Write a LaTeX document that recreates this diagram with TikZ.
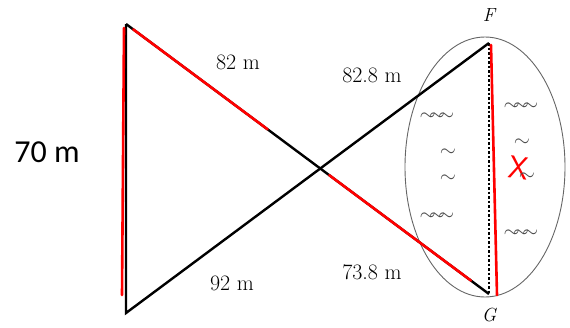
\documentclass[tikz,border=0pt]{standalone}
\usepackage{fontspec}
\newfontfamily\labelsans{Carlito}
\usetikzlibrary{calc, shapes.geometric}

\begin{document}
\begin{tikzpicture}[x=1pt,y=-1pt,
	side/.style={draw=black,line width=2.4pt},
	redmark/.style={draw=red,line width=2.6pt,line cap=round},
	lake/.style={draw=black!60,line width=0.9pt},
	dist/.style={font=\fontsize{22}{22}\selectfont,inner sep=0pt},
	vlabel/.style={font=\fontsize{19}{19}\selectfont\itshape,inner sep=0pt},
	wave/.style={font=\fontsize{20}{20}\selectfont,inner sep=0pt,text=black!70},
	]
	\useasboundingbox (0,0) rectangle (570,327);
	% vertices
	\coordinate (A) at (126,24);
	\coordinate (B) at (126,313);
	\coordinate (F) at (489,43);
	\coordinate (G) at (489,294);
	\coordinate (Fr) at (491,45);
	\coordinate (Gr) at (497,295);
	
	% lake
	\node[lake,ellipse,minimum width=160pt,minimum height=260pt,inner sep=0pt] (lakeshape) at (485,167) {};
	\draw[dash pattern=on 2.5pt off 2pt,line width=1.8pt] (F) -- (G);
	
	% triangles
	\draw[side] (A) -- (B) -- (F);
	\draw[side] (A) -- (G);
	
	% red marks
	\draw[redmark] ($(A)+(-2,4)$) -- ($(B)+(-4,-18)$);
	\draw[redmark] ($(A)!0.02!(G)$) -- ($(A)!0.39!(G)$);
	\draw[redmark] ($(A)!0.56!(G)$) -- ($(A)!0.95!(G)$);
	\draw[redmark] (Fr) -- (Gr);
	\node[text=red,font=\fontsize{32}{32}\selectfont\sffamily,inner sep=0pt,rotate=-8] (cross) at (519,168) {X};
	
	% distances
	\node[dist] (d82) at (238,62) {82 m};
	\node[dist] (d828) at (372,75) {82.8 m};
	\node[dist] (d92) at (232,283) {92 m};
	\node[dist] (d738) at (372,272) {73.8 m};
	\node[font=\labelsans\fontsize{32}{32}\selectfont,inner sep=0pt] (d70) at (47,152) {70 m};
	\node[vlabel] (lblF) at (489,15) {F};
	\node[vlabel] (lblG) at (489,315) {G};
	
	% water marks
	\node[wave] (w1) at (437,117) {$\sim\!\!\sim\!\!\sim$};
	\node[wave] (w2) at (448,153) {$\sim$};
	\node[wave] (w3) at (448,179) {$\sim$};
	\node[wave] (w4) at (437,217) {$\sim\!\!\sim\!\!\sim$};
	\node[wave] (w5) at (521,107) {$\sim\!\!\sim\!\!\sim$};
	\node[wave] (w6) at (522,143) {$\sim$};
	\node[wave] (w7) at (527,177) {$\sim$};
	\node[wave] (w8) at (521,234) {$\sim\!\!\sim\!\!\sim$};
\end{tikzpicture}
\end{document}
